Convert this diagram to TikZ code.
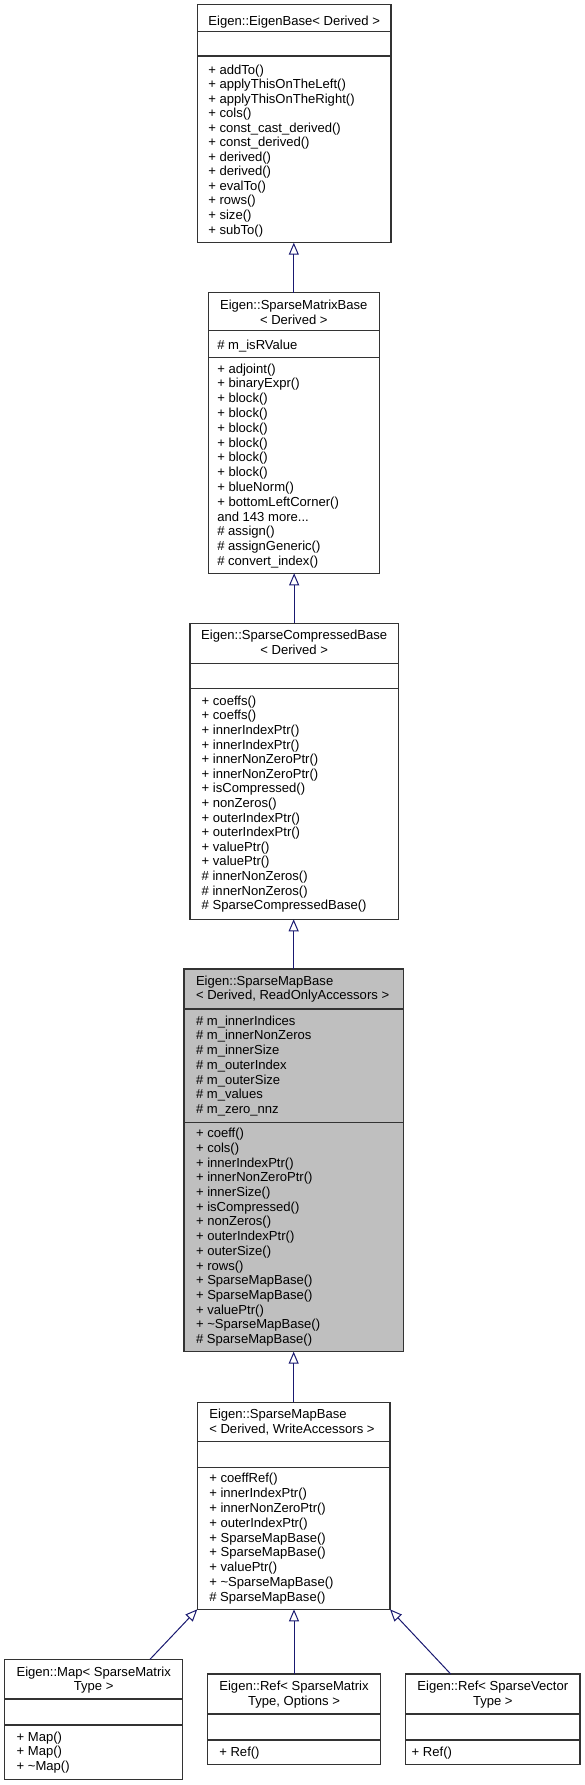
\documentclass[tikz,border=0pt]{standalone}
\usepackage{fontspec}
\setmainfont{Liberation Sans}
\usetikzlibrary{arrows.meta}
\definecolor{edgeblue}{HTML}{191970}
\definecolor{grayfill}{HTML}{BFBFBF}
\definecolor{bordercol}{HTML}{333333}
\tikzset{
  umlbox/.style={draw=bordercol, line width=0.9pt, rectangle, inner sep=0pt, outer sep=0pt},
  divline/.style={draw=bordercol, line width=0.9pt},
  txt/.style={font=\fontsize{9.8}{11}\selectfont, inner sep=0pt, outer sep=0pt},
  edge/.style={draw=edgeblue, line width=0.75pt, -{Triangle[open, length=9pt, width=7.5pt]}},
}
\newcommand\tdots{...}
% name, L, T, R, B, fill
\newcommand\mkbox[6]{\node[umlbox, fill=#6, minimum width={(#4-#2)*0.75pt}, minimum height={(#5-#3)*0.75pt}] (#1) at ({(#2+#4)/2},{(#3+#5)/2}) {};}
% L, R, y
\newcommand\mkdiv[3]{\draw[divline] (#1,#3) -- (#2,#3);}
% prefix, x, first baseline, step, list
\newcommand\mklines[5]{\foreach \t [count=\i] in {#5} {\node[txt, anchor=base west] (#1\i) at (#2,{#3+(\i-1)*#4}) {\t};}}
\newcommand\mkcentered[5]{\foreach \t [count=\i] in {#5} {\node[txt, anchor=base] (#1\i) at (#2,{#3+(\i-1)*#4}) {\t};}}
\begin{document}
\begin{tikzpicture}[x=0.75pt, y=-0.75pt]
\useasboundingbox (0,0) rectangle (585,1785);

% Box 1: EigenBase
\mkbox{b1}{197.3}{4.7}{391}{242.7}{white}
\mkdiv{197.3}{391}{31.7}
\mkdiv{197.3}{391}{56}
\mkcentered{b1t}{294.2}{25}{14.6}{{Eigen::EigenBase< Derived >}}
\mklines{b1m}{208.3}{74}{14.55}{{+ addTo()},{+ applyThisOnTheLeft()},{+ applyThisOnTheRight()},{+ cols()},{+ const\_cast\_derived()},{+ const\_derived()},{+ derived()},{+ derived()},{+ evalTo()},{+ rows()},{+ size()},{+ subTo()}}

% Box 2: SparseMatrixBase
\mkbox{b2}{208.3}{292.7}{379.3}{573.3}{white}
\mkdiv{208.3}{379.3}{330.7}
\mkdiv{208.3}{379.3}{357.3}
\mkcentered{b2t}{293.8}{309.5}{14.5}{{Eigen::SparseMatrixBase},{< Derived >}}
\mklines{b2a}{217.3}{349.5}{14.6}{{\# m\_isRValue}}
\mklines{b2m}{217.3}{373}{14.8}{{+ adjoint()},{+ binaryExpr()},{+ block()},{+ block()},{+ block()},{+ block()},{+ block()},{+ block()},{+ blueNorm()},{+ bottomLeftCorner()},{and 143 more\tdots},{\# assign()},{\# assignGeneric()},{\# convert\_index()}}

% Box 3: SparseCompressedBase
\mkbox{b3}{190}{623.3}{398.3}{919.3}{white}
\mkdiv{190}{398.3}{663.3}
\mkdiv{190}{398.3}{688.3}
\mkcentered{b3t}{294.2}{639.5}{15}{{Eigen::SparseCompressedBase},{< Derived >}}
\mklines{b3m}{201.7}{705.2}{14.6}{{+ coeffs()},{+ coeffs()},{+ innerIndexPtr()},{+ innerIndexPtr()},{+ innerNonZeroPtr()},{+ innerNonZeroPtr()},{+ isCompressed()},{+ nonZeros()},{+ outerIndexPtr()},{+ outerIndexPtr()},{+ valuePtr()},{+ valuePtr()},{\# innerNonZeros()},{\# innerNonZeros()},{\# SparseCompressedBase()}}

% Box 4: SparseMapBase ReadOnly (highlighted)
\mkbox{b4}{184}{969}{403.3}{1351.7}{grayfill}
\mkdiv{184}{403.3}{1009}
\mkdiv{184}{403.3}{1122.3}
\mklines{b4t}{196}{985.2}{13.8}{{Eigen::SparseMapBase},{< Derived, ReadOnlyAccessors >}}
\mklines{b4a}{196}{1025.2}{14.7}{{\# m\_innerIndices},{\# m\_innerNonZeros},{\# m\_innerSize},{\# m\_outerIndex},{\# m\_outerSize},{\# m\_values},{\# m\_zero\_nnz}}
\mklines{b4m}{196}{1137.8}{14.69}{{+ coeff()},{+ cols()},{+ innerIndexPtr()},{+ innerNonZeroPtr()},{+ innerSize()},{+ isCompressed()},{+ nonZeros()},{+ outerIndexPtr()},{+ outerSize()},{+ rows()},{+ SparseMapBase()},{+ SparseMapBase()},{+ valuePtr()},{+ \textasciitilde{}SparseMapBase()},{\# SparseMapBase()}}

% Box 5: SparseMapBase WriteAccessors
\mkbox{b5}{197.3}{1402.3}{390}{1609.3}{white}
\mkdiv{197.3}{390}{1441.7}
\mkdiv{197.3}{390}{1467.3}
\mklines{b5t}{209.3}{1418}{15}{{Eigen::SparseMapBase},{< Derived, WriteAccessors >}}
\mklines{b5m}{209.3}{1482.8}{14.8}{{+ coeffRef()},{+ innerIndexPtr()},{+ innerNonZeroPtr()},{+ outerIndexPtr()},{+ SparseMapBase()},{+ SparseMapBase()},{+ valuePtr()},{+ \textasciitilde{}SparseMapBase()},{\# SparseMapBase()}}

% Map
\mkbox{map}{4.7}{1659.3}{182.7}{1779.3}{white}
\mkdiv{4.7}{182.7}{1699}
\mkdiv{4.7}{182.7}{1725}
\mkcentered{mapt}{93.7}{1676.2}{14.5}{{Eigen::Map< SparseMatrix},{Type >}}
\mklines{mapm}{16.7}{1741.2}{14.5}{{+ Map()},{+ Map()},{+ \textasciitilde{}Map()}}

% Ref 1
\mkbox{refa}{207.3}{1674}{380.7}{1764.3}{white}
\mkdiv{207.3}{380.7}{1714}
\mkdiv{207.3}{380.7}{1740}
\mkcentered{refat}{294}{1690.5}{14.7}{{Eigen::Ref< SparseMatrix},{Type, Options >}}
\mklines{refam}{219.3}{1756.2}{14.5}{{+ Ref()}}

% Ref 2
\mkbox{refb}{405.7}{1674}{580}{1764.3}{white}
\mkdiv{405.7}{580}{1714}
\mkdiv{405.7}{580}{1740}
\mkcentered{refbt}{492.8}{1690.5}{14.7}{{Eigen::Ref< SparseVector},{Type >}}
\mklines{refbm}{411.7}{1756.2}{14.5}{{+ Ref()}}

% Edges
\draw[edge] (b2.north) -- (b2.north |- b1.south);
\draw[edge] (b3.north) -- (b3.north |- b2.south);
\draw[edge] (b4.north) -- (b4.north |- b3.south);
\draw[edge] (b5.north) -- (b5.north |- b4.south);
\coordinate (mapTop) at (150,1659.3);
\coordinate (refbTop) at (450.7,1674);
\draw[edge] (mapTop) -- (b5.south west);
\draw[edge] (refa.north) -- (refa.north |- b5.south);
\draw[edge] (refbTop) -- (b5.south east);
\end{tikzpicture}
\end{document}
